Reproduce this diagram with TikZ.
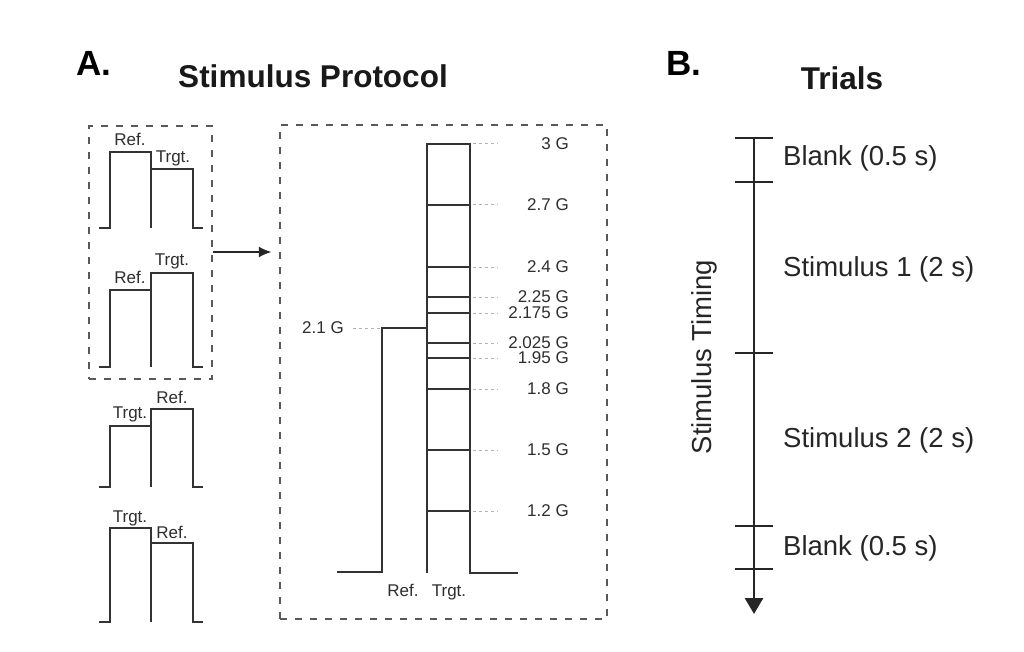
\documentclass[tikz,border=0pt]{standalone}
\usepackage{fontspec}
\setmainfont{Liberation Sans}
\usetikzlibrary{arrows.meta}
\tikzset{
  smlbl/.style={font=\fontsize{17}{19}\selectfont, text=black!82, inner sep=0pt},
  biglbl/.style={font=\fontsize{27.5}{30}\selectfont, text=black!85, inner sep=0pt, anchor=west},
  ttl/.style={font=\bfseries\fontsize{31.5}{34}\selectfont, text=black!90, inner sep=0pt},
  pan/.style={font=\bfseries\fontsize{35}{38}\selectfont, text=black, inner sep=0pt, anchor=west},
  wave/.style={line width=2.3pt, draw=black!80},
  dbox/.style={draw=black!65, line width=2.5pt, dash pattern=on 7pt off 8pt, inner sep=0pt},
  lead/.style={draw=black!30, line width=1pt, dash pattern=on 3pt off 3pt},
  tickmark/.style={line width=2.8pt, draw=black!85}
}
\begin{document}
\begin{tikzpicture}[x=1pt,y=-1pt]
\useasboundingbox[fill=white] (0,0) rectangle (1024,652);

% headers
\node[pan] (hA) at (76,63) {A.};
\node[ttl] (hStim) at (313,76) {Stimulus Protocol};
\node[pan] (hB) at (666,63) {B.};
\node[ttl] (hTrials) at (842,78) {Trials};

% dashed boxes
\node[dbox, minimum width=123pt, minimum height=253pt] (boxL) at (150.5,252.5) {};
\node[dbox, minimum width=327pt, minimum height=494pt] (boxR) at (443.5,372) {};
\draw[line width=2pt, black!85, -{Latex[length=13pt,width=11pt]}, shorten >=7pt] (boxL.east |- 0,252) -- (boxR.west |- 0,252);

% pulse 1: Ref high, Trgt low
\draw[wave] (99,228) -- (110,228) -- (110,152) -- (151,152) -- (151,228);
\draw[wave] (151,169) -- (193,169) -- (193,228) -- (203,228);
\node[smlbl] (p1r) at (130,139) {Ref.};
\node[smlbl] (p1t) at (173,158) {Trgt.};

% pulse 2: Ref low, Trgt high
\draw[wave] (99,367) -- (110,367) -- (110,290) -- (151,290);
\draw[wave] (151,367) -- (151,273) -- (193,273) -- (193,367) -- (203,367);
\node[smlbl] (p2r) at (130,277) {Ref.};
\node[smlbl] (p2t) at (172,261) {Trgt.};

% pulse 3: Trgt low, Ref high
\draw[wave] (99,487) -- (110,487) -- (110,426) -- (151,426);
\draw[wave] (151,487) -- (151,409) -- (193,409) -- (193,487) -- (203,487);
\node[smlbl] (p3t) at (130,414) {Trgt.};
\node[smlbl] (p3r) at (172,397) {Ref.};

% pulse 4: Trgt high, Ref low
\draw[wave] (99,622) -- (110,622) -- (110,528) -- (151,528) -- (151,622);
\draw[wave] (151,543) -- (193,543) -- (193,622) -- (203,622);
\node[smlbl] (p4t) at (130,518) {Trgt.};
\node[smlbl] (p4r) at (172,532) {Ref.};

% ladder
\draw[wave] (337,572) -- (382,572) -- (382,328) -- (427,328);
\draw[wave] (427,573) -- (427,144) -- (470,144) -- (470,573) -- (518,573);
\foreach \yy/\txt [count=\i] in {144/3 G, 205/2.7 G, 267/2.4 G, 297/2.25 G, 313/2.175 G, 343/2.025 G, 358/1.95 G, 389/1.8 G, 450/1.5 G, 511/1.2 G}{
  \ifnum\i>1 \draw[wave] (427,\yy) -- (470,\yy); \fi
  \coordinate (ls\i) at (473,\yy);
  \coordinate (le\i) at (498,\yy);
  \draw[lead] (ls\i) -- (le\i);
  \node[smlbl, anchor=east] (lv\i) at (569,\yy) {\txt};
}
\node[smlbl] (l21) at (323,328) {2.1 G};
\coordinate (l21s) at (353,328);
\coordinate (l21e) at (380,328);
\draw[lead] (l21s) -- (l21e);
\node[smlbl, anchor=base] (lref) at (403,596) {Ref.};
\node[smlbl, anchor=base] (ltrg) at (449,596) {Trgt.};

% panel B timeline
\coordinate (t0) at (754,138);
\coordinate (tend) at (754,614);
\draw[tickmark, -{Triangle[length=16pt,width=18pt]}] (t0) -- (tend);
\foreach \yy [count=\j] in {138,182,353,526,569}{
  \coordinate (tk\j) at (754,\yy);
  \draw[tickmark] ([xshift=-19pt]tk\j) -- ([xshift=19pt]tk\j);
}
\node[biglbl] (b1) at (783,158) {Blank (0.5 s)};
\node[biglbl] (b2) at (783,269) {Stimulus 1 (2 s)};
\node[biglbl] (b3) at (783,440) {Stimulus 2 (2 s)};
\node[biglbl] (b4) at (783,548) {Blank (0.5 s)};
\node[biglbl, anchor=center, rotate=90] (tim) at (704,357) {Stimulus Timing};
\end{tikzpicture}
\end{document}
